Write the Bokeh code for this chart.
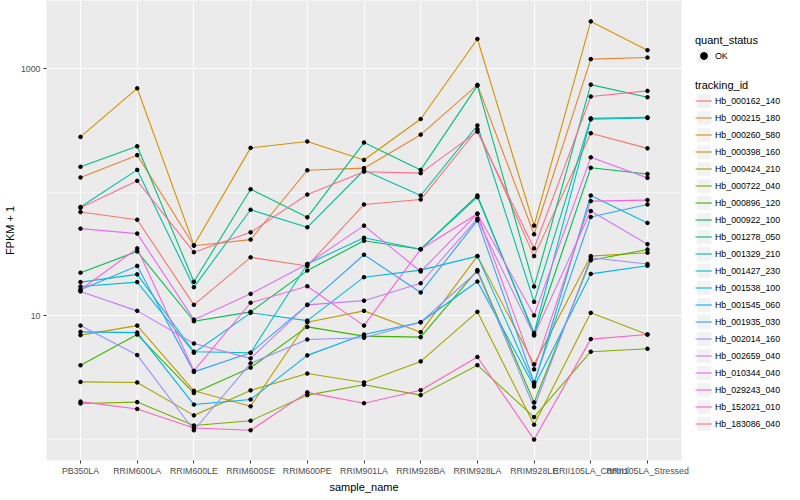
import math
from bokeh.plotting import figure
from bokeh.layouts import row
from bokeh.models import ColumnDataSource, Range1d, FixedTicker, Legend, LegendItem
from bokeh.embed import file_html
from bokeh.resources import INLINE

samples = ["PB350LA", "RRIM600LA", "RRIM600LE", "RRIM600SE", "RRIM600PE", "RRIM901LA",
           "RRIM928BA", "RRIM928LA", "RRIM928LE", "RRII105LA_Control", "RRII105LA_Stressed"]

tracking_ids = ["Hb_000162_140", "Hb_000215_180", "Hb_000260_580", "Hb_000398_160",
                "Hb_000424_210", "Hb_000722_040", "Hb_000896_120", "Hb_000922_100",
                "Hb_001278_050", "Hb_001329_210", "Hb_001427_230", "Hb_001538_100",
                "Hb_001545_060", "Hb_001935_030", "Hb_002014_160", "Hb_002659_040",
                "Hb_010344_040", "Hb_029243_040", "Hb_152021_010", "Hb_183086_040"]

colors = ["#F8766D", "#EA8331", "#D89000", "#C09B00", "#A3A500", "#7CAE00", "#39B600",
          "#00BB4E", "#00BF7D", "#00C1A3", "#00BFC4", "#00BAE0", "#00B0F6", "#35A2FF",
          "#9590FF", "#C77CFF", "#E76BF3", "#FA62DB", "#FF62BC", "#FF6C91"]

# FPKM + 1, one list per tracking_id, in sample order
hb_000162_140 = [69.3, 60.1, 12.3, 29.8, 25.4, 79.8, 87.5, 324, 30.5, 301, 227]
hb_000215_180 = [132, 200, 37.0, 41.5, 151, 157, 293, 740, 45.8, 1196, 1232]
hb_000260_580 = [281, 695, 37.4, 229, 258, 183, 392, 1742, 53.8, 2416, 1413]
hb_000398_160 = [7.00, 8.36, 2.48, 1.86, 8.90, 11.0, 7.40, 30.5, 4.06, 30.5, 32.5]
hb_000424_210 = [2.93, 2.90, 1.57, 2.50, 3.42, 2.90, 4.29, 10.8, 1.32, 10.6, 7.08]
hb_000722_040 = [1.96, 2.01, 1.30, 1.42, 2.29, 2.78, 2.29, 4.00, 1.52, 5.14, 5.43]
hb_000896_120 = [3.99, 7.08, 2.38, 3.82, 8.16, 6.87, 6.74, 23.5, 2.00, 28.2, 34.5]
hb_000922_100 = [22.4, 33.3, 9.07, 10.8, 23.3, 40.6, 34.7, 94.3, 7.08, 158, 141]
hb_001278_050 = [161, 236, 18.9, 106, 62.8, 253, 152, 730, 17.3, 744, 588]
hb_001329_210 = [76.1, 152, 17.1, 72.3, 52.2, 151, 94.3, 348, 13.0, 397, 404]
hb_001427_230 = [18.8, 21.7, 5.14, 5.04, 26.3, 42.9, 34.7, 91.5, 7.30, 390, 400]
hb_001538_100 = [17.3, 18.8, 5.04, 10.6, 9.17, 20.6, 23.5, 30.5, 2.81, 94.3, 56.6]
hb_001545_060 = [7.44, 7.34, 1.92, 2.11, 4.80, 7.08, 8.90, 19.0, 2.69, 21.9, 25.5]
hb_001935_030 = [16.3, 25.4, 3.53, 5.04, 12.3, 31.3, 15.5, 59.3, 2.90, 63.2, 79.8]
hb_002014_160 = [8.36, 4.83, 1.19, 4.14, 6.45, 6.66, 8.90, 22.9, 1.82, 29.6, 26.3]
hb_002659_040 = [15.8, 11.0, 5.99, 4.54, 12.3, 13.3, 18.4, 61.3, 6.95, 70.6, 38.1]
hb_010344_040 = [50.9, 46.4, 9.34, 15.1, 26.3, 53.8, 22.9, 67.2, 10.1, 192, 131]
hb_029243_040 = [16.3, 35.2, 3.60, 12.8, 17.4, 8.36, 34.7, 67.2, 3.70, 85.0, 86.6]
hb_152021_010 = [2.03, 1.77, 1.24, 1.19, 2.41, 1.97, 2.51, 4.66, 1.00, 6.50, 7.08]
hb_183086_040 = [75.0, 124, 32.8, 47.5, 96.0, 147, 143, 310, 35.2, 596, 662]

series = [hb_000162_140, hb_000215_180, hb_000260_580, hb_000398_160, hb_000424_210,
          hb_000722_040, hb_000896_120, hb_000922_100, hb_001278_050, hb_001329_210,
          hb_001427_230, hb_001538_100, hb_001545_060, hb_001935_030, hb_002014_160,
          hb_002659_040, hb_010344_040, hb_029243_040, hb_152021_010, hb_183086_040]

quant_status = ["OK"]

x_idx = list(range(len(samples)))

all_vals = [v for s in series for v in s]
lo, hi = math.log10(min(all_vals)), math.log10(max(all_vals))
pad = 0.05 * (hi - lo)

FONT = "Liberation Sans"
FW, FH = 635, 460
LEFT, RIGHT = 41, 14
LEG_W = 784 - (LEFT + FW + RIGHT)

p = figure(frame_width=FW, frame_height=FH, y_axis_type="log",
           x_range=Range1d(-0.6, len(samples) - 1 + 0.6),
           y_range=Range1d(10 ** (lo - pad), 10 ** (hi + pad)),
           output_backend="svg", toolbar_location=None,
           min_border_left=LEFT, min_border_right=RIGHT, min_border_top=0, min_border_bottom=0)

p.background_fill_color = "#EBEBEB"
p.border_fill_color = "white"
p.outline_line_color = None

p.xaxis.ticker = FixedTicker(ticks=x_idx)
p.xaxis.major_label_overrides = {i: s for i, s in zip(x_idx, samples)}
p.yaxis.ticker = FixedTicker(ticks=[10, 1000], minor_ticks=[1, 100])
p.yaxis.major_label_overrides = {10: "10", 1000: "1000"}
for ax in (p.xaxis, p.yaxis):
    ax.axis_line_color = None
    ax.major_tick_line_color = "#333333"
    ax.major_tick_line_width = 1
    ax.major_tick_out = 3
    ax.major_tick_in = 0
    ax.minor_tick_line_color = None
    ax.major_label_text_color = "#4D4D4D"
    ax.major_label_text_font = FONT
    ax.major_label_text_font_size = "8.8px"
    ax.major_label_standoff = 2
    ax.axis_label_text_font = FONT
    ax.axis_label_text_font_size = "11px"
    ax.axis_label_text_font_style = "normal"
    ax.axis_label_text_color = "black"
    ax.axis_label_standoff = 2
p.xaxis.axis_label = "sample_name"
p.yaxis.axis_label = "FPKM + 1"

p.xgrid.grid_line_color = "white"
p.xgrid.grid_line_width = 1.1
p.ygrid.grid_line_color = "white"
p.ygrid.grid_line_width = 1.1
p.ygrid.minor_grid_line_color = "white"
p.ygrid.minor_grid_line_width = 0.55

sources = []
for tid, col, vals in zip(tracking_ids, colors, series):
    src = ColumnDataSource(dict(x=x_idx, y=vals))
    sources.append(src)
    p.line("x", "y", source=src, line_color=col, line_width=1.1)

pts_src = ColumnDataSource(dict(
    x=[i for s in series for i in x_idx],
    y=[v for s in series for v in s]))
p.scatter("x", "y", source=pts_src, size=3.6, color="black")

# ---- legend panel: a separate figure whose view range excludes the data,
# so its renderers only supply the legend key glyphs ----
lf = figure(width=LEG_W, frame_height=FH, x_range=Range1d(-3, -2), y_range=Range1d(-3, -2),
            output_backend="svg", toolbar_location=None,
            x_axis_location=None, y_axis_location=None,
            min_border_left=0, min_border_right=0, min_border_top=0, min_border_bottom=0)
lf.grid.visible = False
lf.outline_line_color = None
lf.background_fill_color = "white"
lf.border_fill_color = "white"

key_bg = lf.quad(left="x", right="x", top="y", bottom="y", source=pts_src,
                 fill_color="#F2F2F2", line_color=None)
key_pt = lf.scatter("x", "y", source=pts_src, size=3.6, color="black")
line_items = []
for tid, col, src in zip(tracking_ids, colors, sources):
    r = lf.line("x", "y", source=src, line_color=col, line_width=1.1)
    line_items.append(LegendItem(label=tid, renderers=[key_bg, r]))

TITLE_H = 13
LX = 0

def style_legend(lg):
    lg.padding = 0
    lg.margin = 0
    lg.spacing = 0
    lg.border_line_color = None
    lg.background_fill_alpha = 0
    lg.glyph_width = 17
    lg.glyph_height = 17
    lg.label_height = 17
    lg.label_standoff = 3
    lg.label_text_font = FONT
    lg.label_text_font_size = "8.8px"
    lg.label_text_color = "black"
    lg.title_text_font = FONT
    lg.title_text_font_size = "11px"
    lg.title_text_font_style = "normal"
    lg.title_text_color = "black"
    lg.title_standoff = 1

leg_q = Legend(items=[LegendItem(label=q, renderers=[key_bg, key_pt]) for q in quant_status],
               title="quant_status")
style_legend(leg_q)
leg_q.location = (LX, FH - (33 + TITLE_H + 1 + 17))

leg_t = Legend(items=line_items, title="tracking_id")
style_legend(leg_t)
leg_t.location = (LX, FH - (78 + TITLE_H + 1 + 17 * len(line_items)))

lf.add_layout(leg_q)
lf.add_layout(leg_t)

layout = row(p, lf)
open("out.html", "w").write(file_html(layout, INLINE))
